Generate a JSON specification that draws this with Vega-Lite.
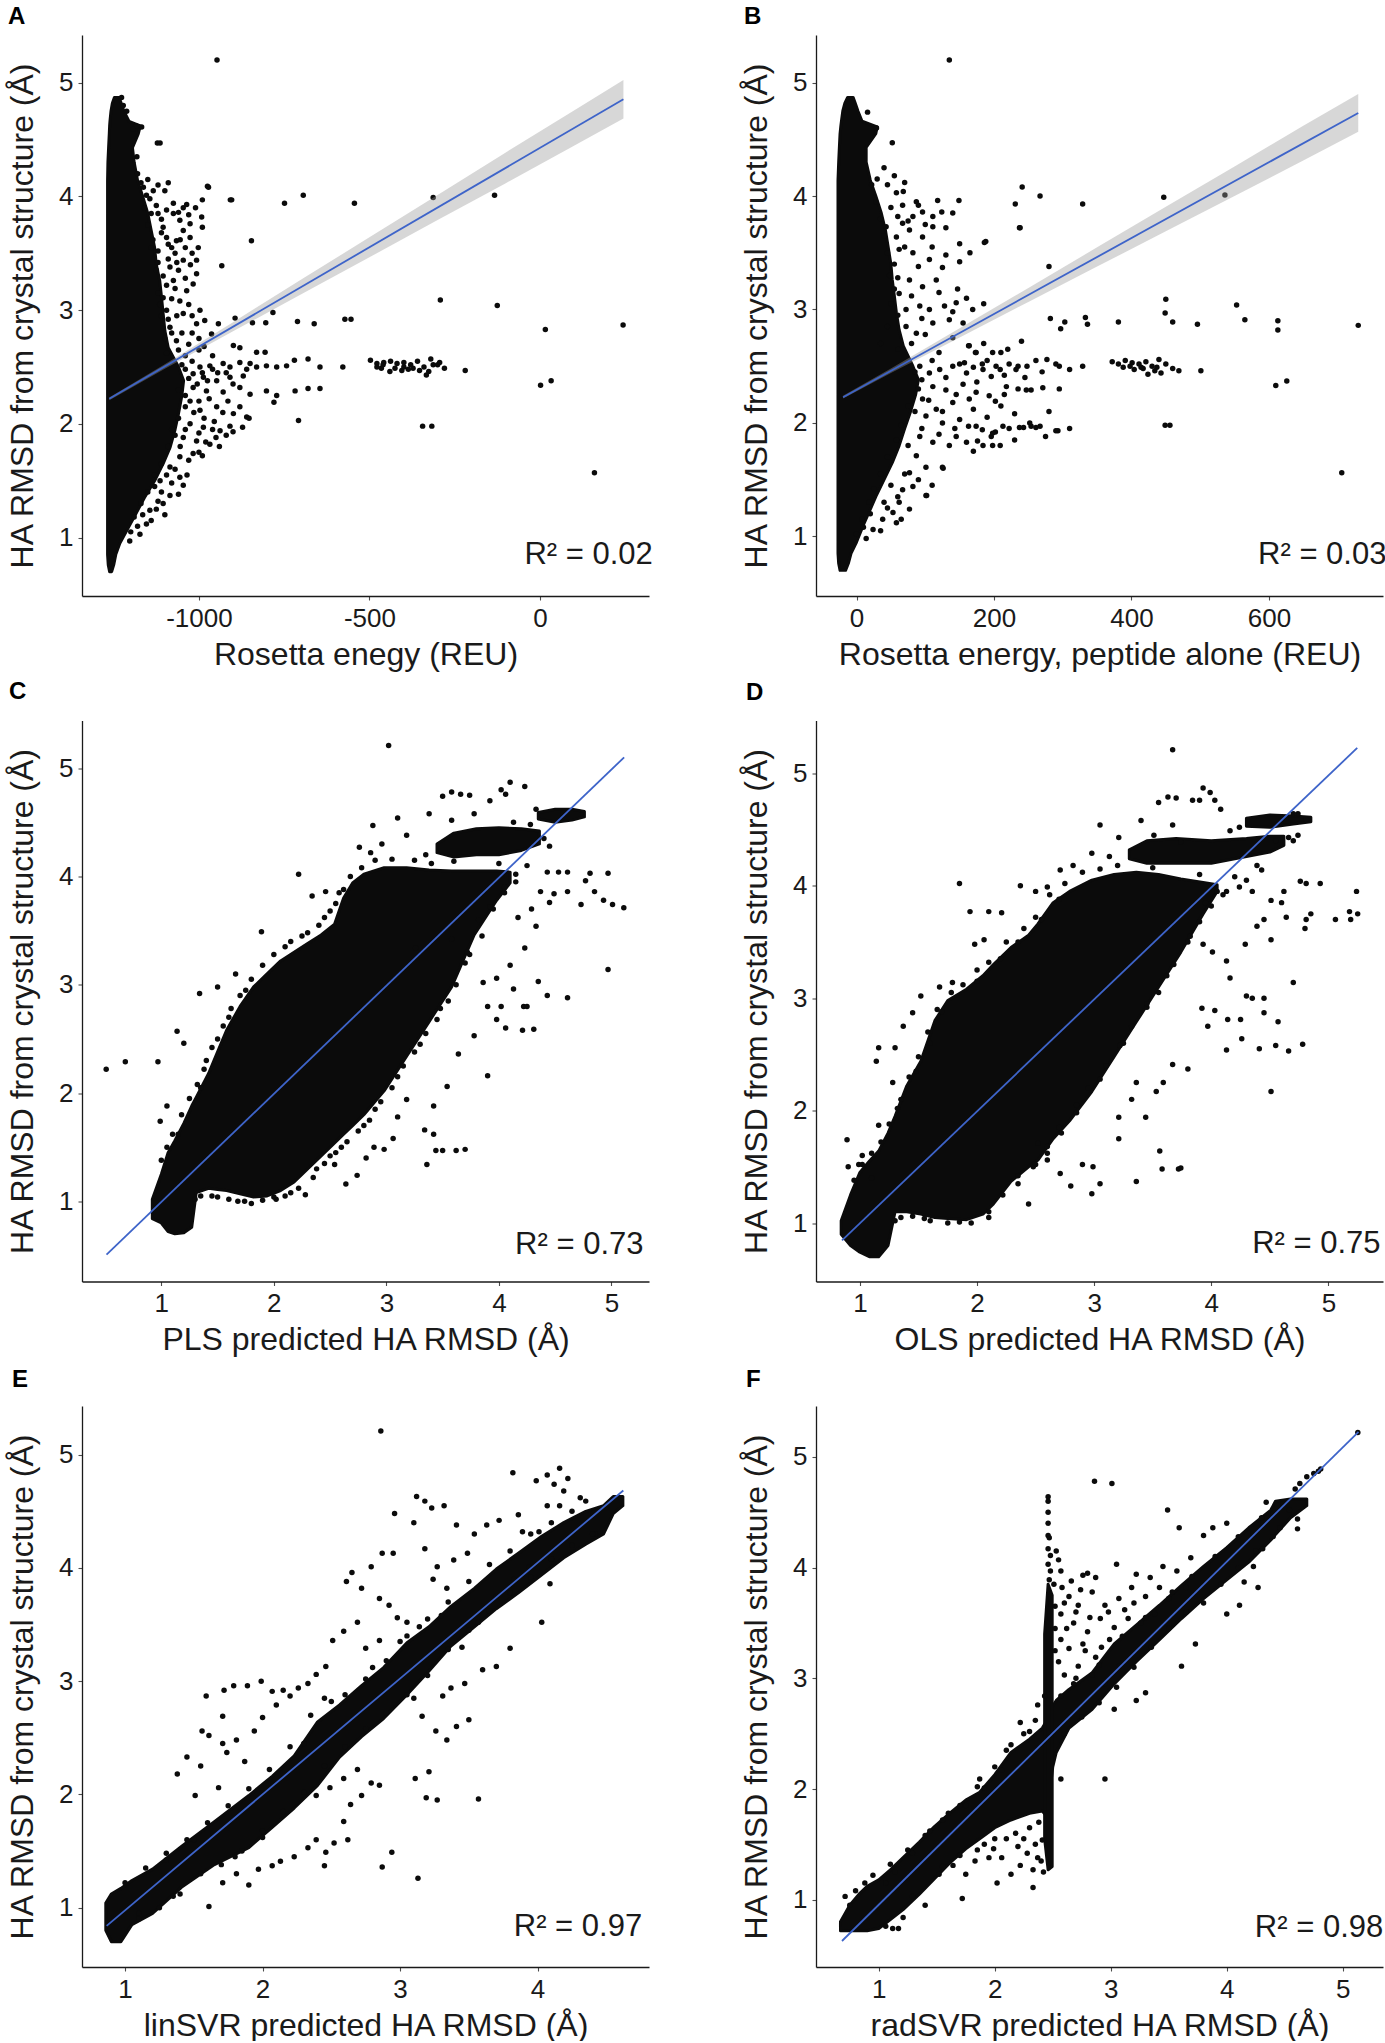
{
  "$schema": "https://vega.github.io/schema/vega-lite/v6.json",
  "background": "white",
  "padding": {"left": 6, "top": 4, "right": 0, "bottom": 0},
  "config": {
    "view": {"stroke": null},
    "font": "Liberation Sans",
    "axis": {
      "grid": false,
      "domainColor": "#1a1a1a",
      "domainWidth": 1.3,
      "tickColor": "#4d4d4d",
      "tickSize": 4,
      "tickWidth": 1.1,
      "labelFontSize": 26,
      "labelColor": "#1a1a1a",
      "labelFlush": false,
      "titleFontSize": 32,
      "titleFontWeight": "normal",
      "titleColor": "#1a1a1a"
    },
    "axisX": {"labelPadding": 5, "titlePadding": 8},
    "axisY": {"labelPadding": 5, "titlePadding": 19},
    "title": {"fontSize": 24, "fontWeight": "bold", "anchor": "start", "frame": "group", "baseline": "alphabetic", "color": "#000000"}
  },
  "datasets": {
    "coreA": [
      {"part": "c", "y": 0.70, "x": -1262, "x2": -1256}, {"part": "c", "y": 0.76, "x": -1266, "x2": -1250}, {"part": "c", "y": 0.85, "x": -1268, "x2": -1244}, {"part": "c", "y": 0.95, "x": -1268, "x2": -1232}, {"part": "c", "y": 1.10, "x": -1268, "x2": -1205}, {"part": "c", "y": 1.21, "x": -1268, "x2": -1185}, {"part": "c", "y": 1.35, "x": -1268, "x2": -1160}, {"part": "c", "y": 1.50, "x": -1268, "x2": -1130}, {"part": "c", "y": 1.65, "x": -1268, "x2": -1105}, {"part": "c", "y": 1.79, "x": -1268, "x2": -1085}, {"part": "c", "y": 1.95, "x": -1268, "x2": -1070}, {"part": "c", "y": 2.09, "x": -1268, "x2": -1060}, {"part": "c", "y": 2.25, "x": -1268, "x2": -1050}, {"part": "c", "y": 2.38, "x": -1268, "x2": -1045}, {"part": "c", "y": 2.50, "x": -1268, "x2": -1060}, {"part": "c", "y": 2.67, "x": -1268, "x2": -1090}, {"part": "c", "y": 2.82, "x": -1268, "x2": -1100}, {"part": "c", "y": 2.97, "x": -1268, "x2": -1105}, {"part": "c", "y": 3.12, "x": -1268, "x2": -1110}, {"part": "c", "y": 3.26, "x": -1268, "x2": -1115}, {"part": "c", "y": 3.40, "x": -1268, "x2": -1125}, {"part": "c", "y": 3.55, "x": -1268, "x2": -1130}, {"part": "c", "y": 3.70, "x": -1268, "x2": -1140}, {"part": "c", "y": 3.85, "x": -1268, "x2": -1150}, {"part": "c", "y": 4.00, "x": -1268, "x2": -1165}, {"part": "c", "y": 4.14, "x": -1268, "x2": -1180}, {"part": "c", "y": 4.30, "x": -1267, "x2": -1190}, {"part": "c", "y": 4.43, "x": -1265, "x2": -1195}, {"part": "c", "y": 4.55, "x": -1263, "x2": -1178}, {"part": "c", "y": 4.62, "x": -1262, "x2": -1172}, {"part": "c", "y": 4.66, "x": -1261, "x2": -1205}, {"part": "c", "y": 4.75, "x": -1258, "x2": -1220}, {"part": "c", "y": 4.82, "x": -1254, "x2": -1228}, {"part": "c", "y": 4.87, "x": -1248, "x2": -1234}
    ],
    "ptsA": [
      {"x": -947, "y": 5.20}, {"x": -1122, "y": 4.47}, {"x": -975, "y": 4.09}, {"x": -908, "y": 3.97}, {"x": -846, "y": 3.61}, {"x": -933, "y": 3.39}, {"x": -749, "y": 3.94}, {"x": -694, "y": 4.01}, {"x": -544, "y": 3.94}, {"x": -313, "y": 3.99}, {"x": -133, "y": 4.01}, {"x": -292, "y": 3.09}, {"x": -125, "y": 3.04}, {"x": 16, "y": 2.83}, {"x": 244, "y": 2.87}, {"x": 2, "y": 2.34}, {"x": 33, "y": 2.38}, {"x": 160, "y": 1.57}, {"x": -344, "y": 1.98}, {"x": -317, "y": 1.98}, {"x": -708, "y": 2.03}, {"x": -572, "y": 2.92}, {"x": -554, "y": 2.92}, {"x": -662, "y": 2.88}, {"x": -711, "y": 2.90}, {"x": -783, "y": 2.98}, {"x": -804, "y": 2.89}, {"x": -843, "y": 2.89}, {"x": -219, "y": 2.47}, {"x": -578, "y": 2.50}, {"x": -645, "y": 2.50}, {"x": -680, "y": 2.57}, {"x": -720, "y": 2.56}, {"x": -645, "y": 2.31}, {"x": -680, "y": 2.31}, {"x": -718, "y": 2.29}, {"x": -780, "y": 2.19},
      {"x": -497, "y": 2.56}, {"x": -478, "y": 2.53}, {"x": -458, "y": 2.54}, {"x": -438, "y": 2.55}, {"x": -419, "y": 2.53}, {"x": -399, "y": 2.54}, {"x": -379, "y": 2.52}, {"x": -359, "y": 2.55}, {"x": -340, "y": 2.50}, {"x": -320, "y": 2.57}, {"x": -300, "y": 2.52}, {"x": -280, "y": 2.49}, {"x": -465, "y": 2.49}, {"x": -425, "y": 2.49}, {"x": -386, "y": 2.48}, {"x": -353, "y": 2.47}, {"x": -326, "y": 2.46}, {"x": -333, "y": 2.43}, {"x": -405, "y": 2.47}, {"x": -372, "y": 2.49}, {"x": -313, "y": 2.52}, {"x": -294, "y": 2.54}, {"x": -478, "y": 2.50}, {"x": -399, "y": 2.50}, {"x": -440, "y": 2.46}, {"x": -460, "y": 2.52},
      {"x": -1114, "y": 4.47}, {"x": -972, "y": 4.08}, {"x": -990, "y": 3.97}, {"x": -904, "y": 3.97}, {"x": -992, "y": 3.82}, {"x": -990, "y": 3.73}, {"x": -1046, "y": 3.90}, {"x": -1075, "y": 3.94}, {"x": -1036, "y": 3.93}, {"x": -1134, "y": 4.05}, {"x": -1163, "y": 4.08}, {"x": -1154, "y": 4.01}, {"x": -1144, "y": 3.98}, {"x": -1075, "y": 3.85}, {"x": -1056, "y": 3.79}, {"x": -1026, "y": 3.76}, {"x": -1046, "y": 3.70}, {"x": -1105, "y": 3.73}, {"x": -1095, "y": 3.64}, {"x": -1066, "y": 3.61}, {"x": -1026, "y": 3.64}, {"x": -1002, "y": 3.55}, {"x": -1007, "y": 3.44}, {"x": -1007, "y": 3.32}, {"x": -1017, "y": 3.23}, {"x": -1036, "y": 3.17}, {"x": -1070, "y": 3.19}, {"x": -1056, "y": 3.08}, {"x": -1085, "y": 3.38}, {"x": -1046, "y": 3.44}, {"x": -1075, "y": 3.26}, {"x": -1105, "y": 3.11}, {"x": -997, "y": 3.00}, {"x": -983, "y": 2.91}, {"x": -943, "y": 2.88}, {"x": -963, "y": 2.79}, {"x": -894, "y": 2.93}, {"x": -1007, "y": 2.88}, {"x": -1085, "y": 2.85}, {"x": -1066, "y": 2.73}, {"x": -1046, "y": 2.97}, {"x": -899, "y": 2.69}, {"x": -880, "y": 2.67}, {"x": -831, "y": 2.63}, {"x": -806, "y": 2.63}, {"x": -997, "y": 2.50}, {"x": -968, "y": 2.51}, {"x": -929, "y": 2.53}, {"x": -909, "y": 2.50}, {"x": -880, "y": 2.54}, {"x": -850, "y": 2.53}, {"x": -831, "y": 2.50}, {"x": -802, "y": 2.51}, {"x": -772, "y": 2.50}, {"x": -743, "y": 2.51}, {"x": -1017, "y": 2.44}, {"x": -987, "y": 2.41}, {"x": -948, "y": 2.38}, {"x": -909, "y": 2.41}, {"x": -870, "y": 2.42}, {"x": -1017, "y": 2.32}, {"x": -978, "y": 2.29}, {"x": -929, "y": 2.28}, {"x": -880, "y": 2.32}, {"x": -850, "y": 2.26}, {"x": -802, "y": 2.29}, {"x": -772, "y": 2.25}, {"x": -1026, "y": 2.20}, {"x": -997, "y": 2.12}, {"x": -948, "y": 2.15}, {"x": -899, "y": 2.09}, {"x": -860, "y": 2.06}, {"x": -1026, "y": 2.00}, {"x": -987, "y": 1.97}, {"x": -938, "y": 1.94}, {"x": -909, "y": 1.98}, {"x": -1046, "y": 1.88}, {"x": -1007, "y": 1.85}, {"x": -968, "y": 1.82}, {"x": -1056, "y": 1.71}, {"x": -1017, "y": 1.74}, {"x": -1085, "y": 1.62}, {"x": -1056, "y": 1.53}, {"x": -1046, "y": 1.46}, {"x": -1085, "y": 1.37}, {"x": -1114, "y": 1.50}, {"x": -1105, "y": 1.30}, {"x": -1144, "y": 1.24}, {"x": -1154, "y": 1.12}, {"x": -1173, "y": 1.03}, {"x": -1203, "y": 0.97}, {"x": -872, "y": 1.97}, {"x": -853, "y": 2.05}, {"x": -900, "y": 1.93}, {"x": -920, "y": 1.90}, {"x": -950, "y": 1.88}, {"x": -980, "y": 1.84}, {"x": -1000, "y": 1.75}, {"x": -1168, "y": 4.61}, {"x": -1183, "y": 4.62}, {"x": -1193, "y": 4.59}, {"x": -1227, "y": 4.87}, {"x": -1212, "y": 4.75}, {"x": -1222, "y": 4.80},
      {"x": -1040, "y": 2.60}, {"x": -1030, "y": 2.40}, {"x": -1060, "y": 2.30}, {"x": -1040, "y": 2.15}, {"x": -1060, "y": 2.05}, {"x": -1080, "y": 1.95}, {"x": -1090, "y": 1.80}, {"x": -1110, "y": 1.65}, {"x": -1130, "y": 1.55}, {"x": -1150, "y": 1.40}, {"x": -1170, "y": 1.30}, {"x": -1190, "y": 1.18}, {"x": -1100, "y": 2.75}, {"x": -1110, "y": 2.95}, {"x": -1120, "y": 3.15}, {"x": -1125, "y": 3.35}, {"x": -1140, "y": 3.55}, {"x": -1150, "y": 3.75}, {"x": -1160, "y": 3.90}, {"x": -1180, "y": 4.20}, {"x": -1182, "y": 4.35}, {"x": -1090, "y": 3.45}, {"x": -1080, "y": 3.55}, {"x": -1120, "y": 3.85}, {"x": -1000, "y": 2.65}, {"x": -960, "y": 2.60}, {"x": -1050, "y": 2.52},
      {"x": -1170, "y": 4.12}, {"x": -1150, "y": 4.15}, {"x": -1120, "y": 4.10}, {"x": -1100, "y": 4.05}, {"x": -1090, "y": 4.12}, {"x": -1140, "y": 3.85}, {"x": -1125, "y": 3.92}, {"x": -1110, "y": 3.80}, {"x": -1095, "y": 3.88}, {"x": -1060, "y": 3.86}, {"x": -1030, "y": 3.84}, {"x": -1010, "y": 3.90}, {"x": -1135, "y": 3.62}, {"x": -1120, "y": 3.52}, {"x": -1110, "y": 3.68}, {"x": -1090, "y": 3.58}, {"x": -1070, "y": 3.50}, {"x": -1055, "y": 3.62}, {"x": -1040, "y": 3.55}, {"x": -1020, "y": 3.50}, {"x": -1120, "y": 3.42}, {"x": -1105, "y": 3.30}, {"x": -1095, "y": 3.22}, {"x": -1060, "y": 3.35}, {"x": -1040, "y": 3.28}, {"x": -1025, "y": 3.40}, {"x": -1065, "y": 3.42}, {"x": -1115, "y": 3.05}, {"x": -1095, "y": 3.00}, {"x": -1080, "y": 3.10}, {"x": -1065, "y": 2.95}, {"x": -1030, "y": 3.05}, {"x": -1020, "y": 2.95}, {"x": -1090, "y": 2.92}, {"x": -1095, "y": 2.62}, {"x": -1080, "y": 2.80}, {"x": -1060, "y": 2.65}, {"x": -1050, "y": 2.80}, {"x": -1030, "y": 2.70}, {"x": -1020, "y": 2.80}, {"x": -1000, "y": 2.75}, {"x": -985, "y": 2.68}, {"x": -1040, "y": 2.48}, {"x": -1020, "y": 2.55}, {"x": -1005, "y": 2.35}, {"x": -990, "y": 2.45}, {"x": -975, "y": 2.38}, {"x": -960, "y": 2.48}, {"x": -945, "y": 2.45}, {"x": -920, "y": 2.45}, {"x": -900, "y": 2.35}, {"x": -860, "y": 2.48}, {"x": -1040, "y": 2.25}, {"x": -1015, "y": 2.10}, {"x": -1000, "y": 2.20}, {"x": -985, "y": 2.05}, {"x": -970, "y": 2.22}, {"x": -955, "y": 2.02}, {"x": -930, "y": 2.10}, {"x": -915, "y": 2.20}, {"x": -880, "y": 2.15}, {"x": -1070, "y": 1.90}, {"x": -1055, "y": 1.80}, {"x": -1040, "y": 1.95}, {"x": -1030, "y": 1.68}, {"x": -1000, "y": 1.92}, {"x": -990, "y": 1.72}, {"x": -960, "y": 1.95}, {"x": -940, "y": 1.80}, {"x": -1130, "y": 1.45}, {"x": -1110, "y": 1.40}, {"x": -1095, "y": 1.55}, {"x": -1080, "y": 1.48}, {"x": -1070, "y": 1.60}, {"x": -1060, "y": 1.38}, {"x": -1120, "y": 1.32}, {"x": -1035, "y": 1.55}, {"x": -1180, "y": 1.10}, {"x": -1165, "y": 1.20}, {"x": -1140, "y": 1.15}, {"x": -1125, "y": 1.25}, {"x": -1200, "y": 1.05}, {"x": -1100, "y": 1.20}
    ],
    "bandA": [
      {"x": -1263, "y": 2.208, "y2": 2.232}, {"x": -1100, "y": 2.485, "y2": 2.525}, {"x": -900, "y": 2.814, "y2": 2.894}, {"x": -700, "y": 3.139, "y2": 3.269}, {"x": -500, "y": 3.465, "y2": 3.641}, {"x": -300, "y": 3.793, "y2": 4.013}, {"x": -100, "y": 4.117, "y2": 4.387}, {"x": 100, "y": 4.447, "y2": 4.757}, {"x": 245, "y": 4.685, "y2": 5.025}
    ],
    "lineA": [{"x": -1263, "y": 2.22}, {"x": 245, "y": 4.855}],
    "noteA": [{"x": 331, "y": 0.848, "label": "R² = 0.02"}],
    "coreB": [
      {"part": "c", "y": 0.70, "x": -24, "x2": -16}, {"part": "c", "y": 0.76, "x": -26, "x2": -12}, {"part": "c", "y": 0.85, "x": -27, "x2": -8}, {"part": "c", "y": 0.95, "x": -27, "x2": 0}, {"part": "c", "y": 1.10, "x": -27, "x2": 10}, {"part": "c", "y": 1.21, "x": -27, "x2": 18}, {"part": "c", "y": 1.35, "x": -27, "x2": 28}, {"part": "c", "y": 1.50, "x": -27, "x2": 40}, {"part": "c", "y": 1.65, "x": -27, "x2": 52}, {"part": "c", "y": 1.80, "x": -27, "x2": 62}, {"part": "c", "y": 1.95, "x": -27, "x2": 70}, {"part": "c", "y": 2.09, "x": -27, "x2": 78}, {"part": "c", "y": 2.25, "x": -27, "x2": 86}, {"part": "c", "y": 2.38, "x": -27, "x2": 90}, {"part": "c", "y": 2.50, "x": -27, "x2": 82}, {"part": "c", "y": 2.68, "x": -27, "x2": 68}, {"part": "c", "y": 2.82, "x": -27, "x2": 62}, {"part": "c", "y": 2.97, "x": -27, "x2": 58}, {"part": "c", "y": 3.12, "x": -27, "x2": 55}, {"part": "c", "y": 3.26, "x": -27, "x2": 52}, {"part": "c", "y": 3.40, "x": -27, "x2": 50}, {"part": "c", "y": 3.55, "x": -27, "x2": 46}, {"part": "c", "y": 3.70, "x": -27, "x2": 42}, {"part": "c", "y": 3.85, "x": -27, "x2": 36}, {"part": "c", "y": 4.00, "x": -27, "x2": 28}, {"part": "c", "y": 4.14, "x": -27, "x2": 20}, {"part": "c", "y": 4.30, "x": -26, "x2": 14}, {"part": "c", "y": 4.43, "x": -25, "x2": 14}, {"part": "c", "y": 4.55, "x": -24, "x2": 28}, {"part": "c", "y": 4.61, "x": -23, "x2": 30}, {"part": "c", "y": 4.66, "x": -22, "x2": 8}, {"part": "c", "y": 4.75, "x": -20, "x2": 2}, {"part": "c", "y": 4.82, "x": -17, "x2": -2}, {"part": "c", "y": 4.87, "x": -13, "x2": -5}
    ],
    "ptsB": [
      {"x": 135, "y": 5.20}, {"x": 52, "y": 4.47}, {"x": 241, "y": 4.08}, {"x": 231, "y": 3.93}, {"x": 238, "y": 3.72}, {"x": 267, "y": 4.00}, {"x": 329, "y": 3.93}, {"x": 447, "y": 3.99}, {"x": 536, "y": 4.01}, {"x": 188, "y": 3.60}, {"x": 280, "y": 3.38}, {"x": 450, "y": 3.09}, {"x": 449, "y": 2.97}, {"x": 553, "y": 3.04}, {"x": 565, "y": 2.91}, {"x": 613, "y": 2.90}, {"x": 613, "y": 2.82}, {"x": 730, "y": 2.86}, {"x": 496, "y": 2.87}, {"x": 460, "y": 2.89}, {"x": 381, "y": 2.89}, {"x": 336, "y": 2.87}, {"x": 333, "y": 2.93}, {"x": 297, "y": 2.83}, {"x": 303, "y": 2.89}, {"x": 282, "y": 2.92}, {"x": 501, "y": 2.46}, {"x": 329, "y": 2.50}, {"x": 295, "y": 2.50}, {"x": 277, "y": 2.56}, {"x": 610, "y": 2.33}, {"x": 626, "y": 2.37}, {"x": 295, "y": 2.30}, {"x": 449, "y": 1.98}, {"x": 456, "y": 1.98}, {"x": 293, "y": 1.93}, {"x": 706, "y": 1.56}, {"x": 126, "y": 1.60}, {"x": 102, "y": 1.36}, {"x": 254, "y": 1.97}, {"x": 267, "y": 1.97}, {"x": 243, "y": 1.96}, {"x": 254, "y": 2.29}, {"x": 271, "y": 2.31}, {"x": 235, "y": 2.30}, {"x": 215, "y": 2.25}, {"x": 202, "y": 2.19}, {"x": 196, "y": 2.41}, {"x": 209, "y": 2.47}, {"x": 222, "y": 2.52}, {"x": 235, "y": 2.50}, {"x": 248, "y": 2.50}, {"x": 261, "y": 2.55}, {"x": 183, "y": 2.52}, {"x": 170, "y": 2.49}, {"x": 157, "y": 2.53}, {"x": 163, "y": 2.68}, {"x": 173, "y": 2.62},
      {"x": 372, "y": 2.54}, {"x": 381, "y": 2.52}, {"x": 391, "y": 2.55}, {"x": 401, "y": 2.53}, {"x": 411, "y": 2.52}, {"x": 421, "y": 2.54}, {"x": 430, "y": 2.50}, {"x": 440, "y": 2.56}, {"x": 450, "y": 2.52}, {"x": 460, "y": 2.48}, {"x": 469, "y": 2.46}, {"x": 388, "y": 2.49}, {"x": 404, "y": 2.47}, {"x": 417, "y": 2.48}, {"x": 434, "y": 2.46}, {"x": 443, "y": 2.44}, {"x": 424, "y": 2.43}, {"x": 398, "y": 2.50}, {"x": 414, "y": 2.49}, {"x": 437, "y": 2.49},
      {"x": 143, "y": 1.95}, {"x": 163, "y": 1.97}, {"x": 183, "y": 1.94}, {"x": 202, "y": 1.92}, {"x": 222, "y": 1.95}, {"x": 209, "y": 1.80}, {"x": 196, "y": 1.88}, {"x": 176, "y": 1.84},
      {"x": 16, "y": 4.74}, {"x": 29, "y": 4.60}, {"x": 58, "y": 4.03}, {"x": 68, "y": 4.04}, {"x": 67, "y": 3.92}, {"x": 87, "y": 3.95}, {"x": 118, "y": 3.96}, {"x": 149, "y": 3.96}, {"x": 124, "y": 3.86}, {"x": 111, "y": 3.82}, {"x": 96, "y": 3.86}, {"x": 82, "y": 3.82}, {"x": 67, "y": 3.76}, {"x": 43, "y": 3.73}, {"x": 58, "y": 3.64}, {"x": 77, "y": 3.70}, {"x": 96, "y": 3.64}, {"x": 111, "y": 3.73}, {"x": 150, "y": 3.58}, {"x": 186, "y": 3.59}, {"x": 237, "y": 3.72}, {"x": 62, "y": 3.53}, {"x": 82, "y": 3.50}, {"x": 106, "y": 3.44}, {"x": 125, "y": 3.37}, {"x": 147, "y": 3.18}, {"x": 145, "y": 3.06}, {"x": 116, "y": 3.26}, {"x": 96, "y": 3.20}, {"x": 77, "y": 3.26}, {"x": 62, "y": 3.14}, {"x": 72, "y": 3.00}, {"x": 92, "y": 3.03}, {"x": 106, "y": 3.00}, {"x": 128, "y": 3.03}, {"x": 135, "y": 2.91}, {"x": 111, "y": 2.88}, {"x": 87, "y": 2.79}, {"x": 72, "y": 2.85}, {"x": 169, "y": 3.00}, {"x": 155, "y": 2.88}, {"x": 164, "y": 2.68}, {"x": 174, "y": 2.62}, {"x": 198, "y": 2.62}, {"x": 210, "y": 2.62}, {"x": 92, "y": 2.50}, {"x": 106, "y": 2.44}, {"x": 121, "y": 2.47}, {"x": 140, "y": 2.50}, {"x": 160, "y": 2.44}, {"x": 184, "y": 2.47}, {"x": 203, "y": 2.50}, {"x": 232, "y": 2.47}, {"x": 111, "y": 2.32}, {"x": 130, "y": 2.29}, {"x": 155, "y": 2.34}, {"x": 174, "y": 2.27}, {"x": 193, "y": 2.24}, {"x": 218, "y": 2.32}, {"x": 247, "y": 2.29}, {"x": 96, "y": 2.21}, {"x": 116, "y": 2.12}, {"x": 140, "y": 2.18}, {"x": 164, "y": 2.21}, {"x": 101, "y": 2.06}, {"x": 125, "y": 2.00}, {"x": 150, "y": 2.03}, {"x": 174, "y": 1.97}, {"x": 198, "y": 1.91}, {"x": 213, "y": 1.97}, {"x": 237, "y": 1.96}, {"x": 252, "y": 2.00}, {"x": 261, "y": 1.96}, {"x": 290, "y": 1.93}, {"x": 92, "y": 1.88}, {"x": 111, "y": 1.83}, {"x": 135, "y": 1.80}, {"x": 160, "y": 1.83}, {"x": 184, "y": 1.80}, {"x": 198, "y": 1.80}, {"x": 87, "y": 1.71}, {"x": 101, "y": 1.61}, {"x": 125, "y": 1.61}, {"x": 77, "y": 1.56}, {"x": 67, "y": 1.41}, {"x": 82, "y": 1.44}, {"x": 101, "y": 1.36}, {"x": 62, "y": 1.30}, {"x": 53, "y": 1.21}, {"x": 77, "y": 1.24}, {"x": 38, "y": 1.15}, {"x": 58, "y": 1.12}, {"x": 24, "y": 1.06}, {"x": 14, "y": 0.98},
      {"x": 35, "y": 2.70}, {"x": 45, "y": 2.85}, {"x": 50, "y": 3.05}, {"x": 48, "y": 3.30}, {"x": 45, "y": 3.50}, {"x": 40, "y": 3.65}, {"x": 35, "y": 3.80}, {"x": 28, "y": 3.95}, {"x": 22, "y": 4.10}, {"x": 90, "y": 2.30}, {"x": 85, "y": 2.45}, {"x": 75, "y": 2.15}, {"x": 65, "y": 1.98}, {"x": 58, "y": 1.85}, {"x": 45, "y": 1.70}, {"x": 35, "y": 1.55}, {"x": 25, "y": 1.42}, {"x": 18, "y": 1.30}, {"x": 8, "y": 1.15}, {"x": 0, "y": 1.02},
      {"x": 30, "y": 4.15}, {"x": 45, "y": 4.10}, {"x": 55, "y": 4.18}, {"x": 70, "y": 4.12}, {"x": 40, "y": 4.25}, {"x": 50, "y": 3.90}, {"x": 60, "y": 3.82}, {"x": 75, "y": 3.78}, {"x": 90, "y": 3.92}, {"x": 100, "y": 3.75}, {"x": 130, "y": 3.72}, {"x": 140, "y": 3.85}, {"x": 55, "y": 3.40}, {"x": 70, "y": 3.55}, {"x": 90, "y": 3.38}, {"x": 110, "y": 3.55}, {"x": 130, "y": 3.48}, {"x": 150, "y": 3.42}, {"x": 165, "y": 3.50}, {"x": 60, "y": 3.28}, {"x": 55, "y": 3.18}, {"x": 80, "y": 3.12}, {"x": 120, "y": 3.15}, {"x": 140, "y": 2.98}, {"x": 160, "y": 3.10}, {"x": 185, "y": 3.05}, {"x": 60, "y": 2.95}, {"x": 95, "y": 2.92}, {"x": 60, "y": 2.65}, {"x": 80, "y": 2.70}, {"x": 100, "y": 2.78}, {"x": 120, "y": 2.62}, {"x": 140, "y": 2.75}, {"x": 185, "y": 2.70}, {"x": 220, "y": 2.65}, {"x": 240, "y": 2.72}, {"x": 95, "y": 2.38}, {"x": 110, "y": 2.55}, {"x": 130, "y": 2.40}, {"x": 150, "y": 2.52}, {"x": 175, "y": 2.36}, {"x": 190, "y": 2.55}, {"x": 215, "y": 2.42}, {"x": 245, "y": 2.40}, {"x": 270, "y": 2.45}, {"x": 290, "y": 2.52}, {"x": 310, "y": 2.47}, {"x": 85, "y": 2.10}, {"x": 105, "y": 2.20}, {"x": 125, "y": 2.10}, {"x": 145, "y": 2.25}, {"x": 170, "y": 2.12}, {"x": 190, "y": 2.05}, {"x": 210, "y": 2.15}, {"x": 230, "y": 2.08}, {"x": 280, "y": 2.10}, {"x": 75, "y": 1.80}, {"x": 95, "y": 1.95}, {"x": 120, "y": 1.90}, {"x": 145, "y": 1.88}, {"x": 170, "y": 1.75}, {"x": 230, "y": 1.85}, {"x": 275, "y": 1.88}, {"x": 310, "y": 1.95}, {"x": 50, "y": 1.45}, {"x": 70, "y": 1.55}, {"x": 90, "y": 1.50}, {"x": 110, "y": 1.45}, {"x": 60, "y": 1.35}, {"x": 40, "y": 1.30}, {"x": 20, "y": 1.20}, {"x": 35, "y": 1.05}, {"x": 45, "y": 1.25}, {"x": 10, "y": 1.08}, {"x": 65, "y": 1.15}
    ],
    "bandB": [
      {"x": -19.6, "y": 2.215, "y2": 2.239}, {"x": 50, "y": 2.44, "y2": 2.48}, {"x": 150, "y": 2.754, "y2": 2.834}, {"x": 250, "y": 3.066, "y2": 3.19}, {"x": 350, "y": 3.378, "y2": 3.548}, {"x": 450, "y": 3.689, "y2": 3.905}, {"x": 550, "y": 4.001, "y2": 4.261}, {"x": 650, "y": 4.313, "y2": 4.619}, {"x": 730, "y": 4.566, "y2": 4.9}
    ],
    "lineB": [{"x": -19.6, "y": 2.227}, {"x": 730, "y": 4.733}],
    "noteB": [{"x": 771, "y": 0.836, "label": "R² = 0.03"}],
    "coreC": [
      {"part": "m", "x": 0.92, "y": 0.84, "y2": 1.02}, {"part": "m", "x": 1.00, "y": 0.80, "y2": 1.25}, {"part": "m", "x": 1.06, "y": 0.72, "y2": 1.45}, {"part": "m", "x": 1.12, "y": 0.70, "y2": 1.56}, {"part": "m", "x": 1.20, "y": 0.71, "y2": 1.72}, {"part": "m", "x": 1.27, "y": 0.76, "y2": 1.88}, {"part": "m", "x": 1.31, "y": 1.08, "y2": 1.96}, {"part": "m", "x": 1.42, "y": 1.12, "y2": 2.18}, {"part": "m", "x": 1.50, "y": 1.11, "y2": 2.38}, {"part": "m", "x": 1.58, "y": 1.10, "y2": 2.58}, {"part": "m", "x": 1.70, "y": 1.07, "y2": 2.80}, {"part": "m", "x": 1.82, "y": 1.04, "y2": 2.98}, {"part": "m", "x": 1.94, "y": 1.05, "y2": 3.10}, {"part": "m", "x": 2.06, "y": 1.10, "y2": 3.22}, {"part": "m", "x": 2.18, "y": 1.18, "y2": 3.30}, {"part": "m", "x": 2.30, "y": 1.30, "y2": 3.38}, {"part": "m", "x": 2.42, "y": 1.42, "y2": 3.46}, {"part": "m", "x": 2.54, "y": 1.54, "y2": 3.56}, {"part": "m", "x": 2.62, "y": 1.62, "y2": 3.80}, {"part": "m", "x": 2.70, "y": 1.70, "y2": 3.94}, {"part": "m", "x": 2.80, "y": 1.80, "y2": 4.02}, {"part": "m", "x": 2.98, "y": 2.02, "y2": 4.08}, {"part": "m", "x": 3.18, "y": 2.34, "y2": 4.08}, {"part": "m", "x": 3.38, "y": 2.66, "y2": 4.06}, {"part": "m", "x": 3.58, "y": 2.98, "y2": 4.05}, {"part": "m", "x": 3.78, "y": 3.46, "y2": 4.05}, {"part": "m", "x": 3.98, "y": 3.78, "y2": 4.05}, {"part": "m", "x": 4.10, "y": 3.94, "y2": 4.04},
      {"part": "u", "x": 3.45, "y": 4.22, "y2": 4.30}, {"part": "u", "x": 3.60, "y": 4.18, "y2": 4.40}, {"part": "u", "x": 3.80, "y": 4.20, "y2": 4.44}, {"part": "u", "x": 4.00, "y": 4.20, "y2": 4.45}, {"part": "u", "x": 4.20, "y": 4.24, "y2": 4.44}, {"part": "u", "x": 4.36, "y": 4.30, "y2": 4.42},
      {"part": "t", "x": 4.35, "y": 4.53, "y2": 4.59}, {"part": "t", "x": 4.50, "y": 4.50, "y2": 4.62}, {"part": "t", "x": 4.65, "y": 4.52, "y2": 4.62}, {"part": "t", "x": 4.76, "y": 4.55, "y2": 4.60}
    ],
    "ptsC": [
      {"x": 0.51, "y": 2.22}, {"x": 0.68, "y": 2.29}, {"x": 0.97, "y": 2.29}, {"x": 1.05, "y": 1.88}, {"x": 0.99, "y": 1.74}, {"x": 1.14, "y": 2.57}, {"x": 1.20, "y": 2.46}, {"x": 1.34, "y": 2.92}, {"x": 1.50, "y": 2.98}, {"x": 1.66, "y": 3.10}, {"x": 1.89, "y": 3.49}, {"x": 2.22, "y": 4.02}, {"x": 2.34, "y": 3.82}, {"x": 2.46, "y": 3.86}, {"x": 3.02, "y": 5.21}, {"x": 2.88, "y": 4.47}, {"x": 3.10, "y": 4.54}, {"x": 2.86, "y": 4.22}, {"x": 2.96, "y": 4.30}, {"x": 2.76, "y": 4.27}, {"x": 3.18, "y": 4.38}, {"x": 3.38, "y": 4.58}, {"x": 3.50, "y": 4.74}, {"x": 3.58, "y": 4.78}, {"x": 3.66, "y": 4.76}, {"x": 3.74, "y": 4.75}, {"x": 3.92, "y": 4.70}, {"x": 4.02, "y": 4.80}, {"x": 4.10, "y": 4.87}, {"x": 4.23, "y": 4.83}, {"x": 4.06, "y": 4.76}, {"x": 3.58, "y": 4.52}, {"x": 3.78, "y": 4.58}, {"x": 4.13, "y": 4.50}, {"x": 4.33, "y": 4.62}, {"x": 4.43, "y": 4.04}, {"x": 4.53, "y": 4.04}, {"x": 4.61, "y": 4.04}, {"x": 4.81, "y": 4.03}, {"x": 4.97, "y": 4.03}, {"x": 4.37, "y": 3.86}, {"x": 4.49, "y": 3.84}, {"x": 4.61, "y": 3.86}, {"x": 4.73, "y": 3.74}, {"x": 4.77, "y": 3.96}, {"x": 4.85, "y": 3.86}, {"x": 4.93, "y": 3.78}, {"x": 5.01, "y": 3.74}, {"x": 5.11, "y": 3.71}, {"x": 4.45, "y": 3.76}, {"x": 4.29, "y": 3.70}, {"x": 4.33, "y": 3.54}, {"x": 4.17, "y": 3.62}, {"x": 4.23, "y": 3.34}, {"x": 4.10, "y": 3.18}, {"x": 4.35, "y": 3.03}, {"x": 4.43, "y": 2.90}, {"x": 4.61, "y": 2.88}, {"x": 4.97, "y": 3.14}, {"x": 4.13, "y": 2.96}, {"x": 3.98, "y": 3.06}, {"x": 3.90, "y": 2.80}, {"x": 3.98, "y": 2.68}, {"x": 4.06, "y": 2.60}, {"x": 4.22, "y": 2.80}, {"x": 4.25, "y": 2.80}, {"x": 4.31, "y": 2.59}, {"x": 4.21, "y": 2.58}, {"x": 4.02, "y": 2.80}, {"x": 3.78, "y": 2.53}, {"x": 3.64, "y": 2.36}, {"x": 3.90, "y": 2.16}, {"x": 3.54, "y": 2.06}, {"x": 3.42, "y": 1.88}, {"x": 3.34, "y": 1.66}, {"x": 3.42, "y": 1.62}, {"x": 3.44, "y": 1.47}, {"x": 3.50, "y": 1.47}, {"x": 3.62, "y": 1.47}, {"x": 3.70, "y": 1.48}, {"x": 3.36, "y": 1.34}, {"x": 3.18, "y": 1.94}, {"x": 3.10, "y": 1.78}, {"x": 3.06, "y": 1.58}, {"x": 2.98, "y": 1.48}, {"x": 2.89, "y": 1.50}, {"x": 2.82, "y": 1.40}, {"x": 2.74, "y": 1.24}, {"x": 2.64, "y": 1.16}, {"x": 2.54, "y": 1.34}, {"x": 2.38, "y": 1.30}, {"x": 2.28, "y": 1.06}, {"x": 2.02, "y": 1.02}, {"x": 1.90, "y": 1.01}, {"x": 1.74, "y": 1.00}, {"x": 3.74, "y": 3.28}, {"x": 3.86, "y": 3.02}, {"x": 3.58, "y": 3.42}, {"x": 3.26, "y": 3.34},
      {"x": 2.50, "y": 1.42}, {"x": 2.60, "y": 1.50}, {"x": 2.80, "y": 1.70}, {"x": 2.90, "y": 1.85}, {"x": 3.10, "y": 2.15}, {"x": 3.30, "y": 2.45}, {"x": 3.45, "y": 2.68}, {"x": 3.55, "y": 2.85}, {"x": 3.70, "y": 3.20}, {"x": 3.85, "y": 3.45}, {"x": 1.40, "y": 2.30}, {"x": 1.50, "y": 2.50}, {"x": 1.60, "y": 2.70}, {"x": 1.75, "y": 2.95}, {"x": 2.10, "y": 3.35}, {"x": 2.30, "y": 3.48}, {"x": 2.45, "y": 3.62}, {"x": 2.55, "y": 3.75}, {"x": 2.62, "y": 3.88}, {"x": 3.95, "y": 3.70}, {"x": 4.05, "y": 3.85}, {"x": 4.15, "y": 3.95}, {"x": 4.00, "y": 4.12}, {"x": 3.40, "y": 4.12}, {"x": 3.60, "y": 4.14}, {"x": 1.30, "y": 1.02}, {"x": 1.45, "y": 1.05}, {"x": 1.60, "y": 1.02}, {"x": 2.15, "y": 1.08}, {"x": 1.35, "y": 2.05}, {"x": 1.15, "y": 1.62}, {"x": 1.00, "y": 1.38},
      {"x": 1.05, "y": 1.50}, {"x": 1.10, "y": 1.62}, {"x": 1.18, "y": 1.80}, {"x": 1.25, "y": 1.95}, {"x": 1.32, "y": 2.08}, {"x": 1.38, "y": 2.22}, {"x": 1.45, "y": 2.42}, {"x": 1.55, "y": 2.62}, {"x": 1.62, "y": 2.78}, {"x": 1.70, "y": 2.90}, {"x": 1.80, "y": 3.05}, {"x": 1.90, "y": 3.18}, {"x": 2.00, "y": 3.28}, {"x": 2.15, "y": 3.40}, {"x": 2.25, "y": 3.45}, {"x": 2.40, "y": 3.55}, {"x": 2.50, "y": 3.68}, {"x": 2.58, "y": 3.85}, {"x": 2.68, "y": 4.00}, {"x": 2.78, "y": 4.08}, {"x": 2.90, "y": 4.15}, {"x": 3.05, "y": 4.16}, {"x": 3.25, "y": 4.15}, {"x": 3.35, "y": 4.20}, {"x": 1.35, "y": 1.05}, {"x": 1.50, "y": 1.04}, {"x": 1.68, "y": 1.00}, {"x": 1.80, "y": 0.98}, {"x": 2.00, "y": 1.04}, {"x": 2.10, "y": 1.05}, {"x": 2.22, "y": 1.12}, {"x": 2.35, "y": 1.22}, {"x": 2.45, "y": 1.35}, {"x": 2.55, "y": 1.45}, {"x": 2.65, "y": 1.55}, {"x": 2.75, "y": 1.65}, {"x": 2.85, "y": 1.75}, {"x": 2.95, "y": 1.92}, {"x": 3.05, "y": 2.05}, {"x": 3.15, "y": 2.25}, {"x": 3.25, "y": 2.38}, {"x": 3.35, "y": 2.55}, {"x": 3.48, "y": 2.78}, {"x": 3.62, "y": 3.00}, {"x": 3.72, "y": 3.30}, {"x": 3.82, "y": 3.60}, {"x": 3.92, "y": 3.72}, {"x": 4.05, "y": 3.90}, {"x": 4.15, "y": 4.02}, {"x": 4.25, "y": 4.10}, {"x": 4.40, "y": 4.35}, {"x": 4.45, "y": 4.28}, {"x": 4.28, "y": 4.48}
    ],
    "lineC": [{"x": 0.513, "y": 0.508}, {"x": 5.113, "y": 5.10}],
    "noteC": [{"x": 5.285, "y": 0.60, "label": "R² = 0.73"}],
    "coreD": [
      {"part": "m", "x": 0.84, "y": 0.90, "y2": 1.02}, {"part": "m", "x": 0.92, "y": 0.80, "y2": 1.25}, {"part": "m", "x": 1.00, "y": 0.74, "y2": 1.45}, {"part": "m", "x": 1.08, "y": 0.70, "y2": 1.55}, {"part": "m", "x": 1.16, "y": 0.70, "y2": 1.64}, {"part": "m", "x": 1.24, "y": 0.80, "y2": 1.80}, {"part": "m", "x": 1.30, "y": 1.10, "y2": 1.95}, {"part": "m", "x": 1.40, "y": 1.10, "y2": 2.22}, {"part": "m", "x": 1.52, "y": 1.08, "y2": 2.44}, {"part": "m", "x": 1.64, "y": 1.05, "y2": 2.80}, {"part": "m", "x": 1.75, "y": 1.04, "y2": 2.98}, {"part": "m", "x": 1.91, "y": 1.03, "y2": 3.08}, {"part": "m", "x": 2.05, "y": 1.08, "y2": 3.20}, {"part": "m", "x": 2.14, "y": 1.17, "y2": 3.30}, {"part": "m", "x": 2.29, "y": 1.37, "y2": 3.45}, {"part": "m", "x": 2.44, "y": 1.50, "y2": 3.56}, {"part": "m", "x": 2.52, "y": 1.56, "y2": 3.66}, {"part": "m", "x": 2.65, "y": 1.75, "y2": 3.85}, {"part": "m", "x": 2.79, "y": 1.91, "y2": 3.95}, {"part": "m", "x": 2.98, "y": 2.17, "y2": 4.05}, {"part": "m", "x": 3.17, "y": 2.48, "y2": 4.10}, {"part": "m", "x": 3.36, "y": 2.79, "y2": 4.12}, {"part": "m", "x": 3.55, "y": 3.10, "y2": 4.10}, {"part": "m", "x": 3.74, "y": 3.41, "y2": 4.06}, {"part": "m", "x": 3.93, "y": 3.75, "y2": 4.03}, {"part": "m", "x": 4.05, "y": 3.95, "y2": 4.01},
      {"part": "u", "x": 3.30, "y": 4.24, "y2": 4.32}, {"part": "u", "x": 3.45, "y": 4.20, "y2": 4.40}, {"part": "u", "x": 3.70, "y": 4.20, "y2": 4.42}, {"part": "u", "x": 4.00, "y": 4.20, "y2": 4.40}, {"part": "u", "x": 4.30, "y": 4.26, "y2": 4.42}, {"part": "u", "x": 4.50, "y": 4.30, "y2": 4.44}, {"part": "u", "x": 4.62, "y": 4.36, "y2": 4.44},
      {"part": "t", "x": 4.30, "y": 4.53, "y2": 4.60}, {"part": "t", "x": 4.50, "y": 4.52, "y2": 4.63}, {"part": "t", "x": 4.70, "y": 4.55, "y2": 4.62}, {"part": "t", "x": 4.85, "y": 4.57, "y2": 4.61}
    ],
    "ptsD": [
      {"x": 3.67, "y": 5.21}, {"x": 1.85, "y": 4.02}, {"x": 2.37, "y": 4.00}, {"x": 1.94, "y": 3.77}, {"x": 2.10, "y": 3.77}, {"x": 2.21, "y": 3.76}, {"x": 1.98, "y": 3.48}, {"x": 2.06, "y": 3.52}, {"x": 1.68, "y": 3.10}, {"x": 1.79, "y": 3.14}, {"x": 1.52, "y": 3.02}, {"x": 1.45, "y": 2.87}, {"x": 1.37, "y": 2.75}, {"x": 1.16, "y": 2.56}, {"x": 1.14, "y": 2.44}, {"x": 1.30, "y": 2.56}, {"x": 1.28, "y": 2.25}, {"x": 0.89, "y": 1.74}, {"x": 1.16, "y": 1.87}, {"x": 0.99, "y": 1.52}, {"x": 1.10, "y": 1.40}, {"x": 2.52, "y": 1.71}, {"x": 2.60, "y": 1.56}, {"x": 2.44, "y": 1.17}, {"x": 2.71, "y": 1.44}, {"x": 2.80, "y": 1.33}, {"x": 2.98, "y": 1.26}, {"x": 3.05, "y": 1.35}, {"x": 2.90, "y": 1.52}, {"x": 2.99, "y": 1.50}, {"x": 3.21, "y": 1.75}, {"x": 3.36, "y": 1.37}, {"x": 3.56, "y": 1.64}, {"x": 3.58, "y": 1.48}, {"x": 3.72, "y": 1.48}, {"x": 3.74, "y": 1.49}, {"x": 3.53, "y": 2.17}, {"x": 3.67, "y": 2.41}, {"x": 3.80, "y": 2.37}, {"x": 3.59, "y": 2.25}, {"x": 3.36, "y": 2.25}, {"x": 3.32, "y": 2.10}, {"x": 3.21, "y": 1.94}, {"x": 3.44, "y": 1.94}, {"x": 4.51, "y": 2.17}, {"x": 4.41, "y": 2.55}, {"x": 4.55, "y": 2.58}, {"x": 4.66, "y": 2.53}, {"x": 4.78, "y": 2.59}, {"x": 4.13, "y": 2.54}, {"x": 4.26, "y": 2.64}, {"x": 4.14, "y": 2.81}, {"x": 3.97, "y": 2.75}, {"x": 3.92, "y": 2.91}, {"x": 4.03, "y": 2.89}, {"x": 4.30, "y": 3.02}, {"x": 4.35, "y": 3.00}, {"x": 4.45, "y": 3.00}, {"x": 4.45, "y": 2.87}, {"x": 4.57, "y": 2.79}, {"x": 4.70, "y": 3.14}, {"x": 4.25, "y": 2.81}, {"x": 4.16, "y": 3.18}, {"x": 4.13, "y": 3.33}, {"x": 4.01, "y": 3.41}, {"x": 3.93, "y": 3.48}, {"x": 4.29, "y": 3.48}, {"x": 4.39, "y": 3.64}, {"x": 4.51, "y": 3.52}, {"x": 4.45, "y": 3.70}, {"x": 4.60, "y": 3.85}, {"x": 4.64, "y": 3.72}, {"x": 4.81, "y": 3.70}, {"x": 4.80, "y": 3.62}, {"x": 4.85, "y": 3.75}, {"x": 4.76, "y": 4.04}, {"x": 4.81, "y": 4.02}, {"x": 4.93, "y": 4.02}, {"x": 5.06, "y": 3.70}, {"x": 5.18, "y": 3.77}, {"x": 5.19, "y": 3.70}, {"x": 5.24, "y": 3.95}, {"x": 5.25, "y": 3.75}, {"x": 4.62, "y": 3.95}, {"x": 4.51, "y": 3.87}, {"x": 4.35, "y": 3.95}, {"x": 4.24, "y": 3.99}, {"x": 4.13, "y": 3.95}, {"x": 4.43, "y": 4.14}, {"x": 4.39, "y": 4.18}, {"x": 4.66, "y": 4.43}, {"x": 4.74, "y": 4.45}, {"x": 3.55, "y": 4.74}, {"x": 3.63, "y": 4.79}, {"x": 3.70, "y": 4.78}, {"x": 3.84, "y": 4.76}, {"x": 3.90, "y": 4.76}, {"x": 3.93, "y": 4.87}, {"x": 3.99, "y": 4.83}, {"x": 4.03, "y": 4.76}, {"x": 4.08, "y": 4.68}, {"x": 3.05, "y": 4.54}, {"x": 3.40, "y": 4.58}, {"x": 3.67, "y": 4.54}, {"x": 3.21, "y": 4.43}, {"x": 3.51, "y": 4.45}, {"x": 3.74, "y": 4.39}, {"x": 4.16, "y": 4.49}, {"x": 4.24, "y": 4.52}, {"x": 2.98, "y": 4.29}, {"x": 3.13, "y": 4.26}, {"x": 2.82, "y": 4.18}, {"x": 2.71, "y": 4.14}, {"x": 2.60, "y": 3.99}, {"x": 2.50, "y": 3.95}, {"x": 4.74, "y": 4.64}, {"x": 4.81, "y": 4.59}, {"x": 4.70, "y": 4.64},
      {"x": 2.35, "y": 1.35}, {"x": 2.48, "y": 1.50}, {"x": 2.60, "y": 1.62}, {"x": 2.72, "y": 1.80}, {"x": 2.85, "y": 1.98}, {"x": 3.05, "y": 2.28}, {"x": 3.25, "y": 2.60}, {"x": 3.45, "y": 2.92}, {"x": 3.62, "y": 3.20}, {"x": 3.82, "y": 3.55}, {"x": 1.35, "y": 2.10}, {"x": 1.48, "y": 2.35}, {"x": 1.60, "y": 2.60}, {"x": 1.70, "y": 2.88}, {"x": 2.00, "y": 3.15}, {"x": 2.20, "y": 3.35}, {"x": 2.35, "y": 3.50}, {"x": 2.55, "y": 3.70}, {"x": 2.70, "y": 3.88}, {"x": 3.95, "y": 3.85}, {"x": 4.05, "y": 3.95}, {"x": 3.90, "y": 4.10}, {"x": 3.50, "y": 4.16}, {"x": 1.30, "y": 1.02}, {"x": 1.55, "y": 1.04}, {"x": 1.85, "y": 1.01}, {"x": 2.10, "y": 1.05}, {"x": 0.90, "y": 1.50}, {"x": 1.02, "y": 1.60},
      {"x": 0.95, "y": 1.38}, {"x": 1.02, "y": 1.52}, {"x": 1.10, "y": 1.62}, {"x": 1.18, "y": 1.72}, {"x": 1.25, "y": 1.88}, {"x": 1.32, "y": 2.02}, {"x": 1.42, "y": 2.30}, {"x": 1.50, "y": 2.48}, {"x": 1.58, "y": 2.70}, {"x": 1.66, "y": 2.90}, {"x": 1.78, "y": 3.05}, {"x": 1.88, "y": 3.12}, {"x": 2.00, "y": 3.25}, {"x": 2.10, "y": 3.32}, {"x": 2.25, "y": 3.50}, {"x": 2.40, "y": 3.62}, {"x": 2.50, "y": 3.72}, {"x": 2.62, "y": 3.92}, {"x": 2.75, "y": 4.02}, {"x": 2.90, "y": 4.12}, {"x": 3.05, "y": 4.15}, {"x": 3.20, "y": 4.18}, {"x": 1.35, "y": 1.05}, {"x": 1.45, "y": 1.06}, {"x": 1.60, "y": 1.02}, {"x": 1.75, "y": 1.00}, {"x": 1.95, "y": 1.00}, {"x": 2.10, "y": 1.10}, {"x": 2.22, "y": 1.25}, {"x": 2.35, "y": 1.42}, {"x": 2.50, "y": 1.52}, {"x": 2.60, "y": 1.68}, {"x": 2.70, "y": 1.85}, {"x": 2.85, "y": 2.05}, {"x": 2.95, "y": 2.20}, {"x": 3.10, "y": 2.40}, {"x": 3.22, "y": 2.58}, {"x": 3.32, "y": 2.75}, {"x": 3.45, "y": 2.95}, {"x": 3.55, "y": 3.05}, {"x": 3.68, "y": 3.30}, {"x": 3.80, "y": 3.50}, {"x": 3.90, "y": 3.68}, {"x": 4.00, "y": 3.82}, {"x": 4.10, "y": 3.92}, {"x": 4.30, "y": 4.05}, {"x": 4.20, "y": 4.08}, {"x": 4.55, "y": 4.40}, {"x": 4.70, "y": 4.40}
    ],
    "lineD": [{"x": 0.847, "y": 0.846}, {"x": 5.246, "y": 5.226}],
    "noteD": [{"x": 5.445, "y": 0.815, "label": "R² = 0.75"}],
    "coreE": [
      {"part": "m", "x": 0.86, "y": 0.80, "y2": 1.04}, {"part": "m", "x": 0.90, "y": 0.70, "y2": 1.12}, {"part": "m", "x": 0.97, "y": 0.70, "y2": 1.17}, {"part": "m", "x": 1.05, "y": 0.85, "y2": 1.24}, {"part": "m", "x": 1.20, "y": 0.95, "y2": 1.34}, {"part": "m", "x": 1.41, "y": 1.18, "y2": 1.54}, {"part": "m", "x": 1.65, "y": 1.38, "y2": 1.76}, {"part": "m", "x": 1.90, "y": 1.53, "y2": 1.99}, {"part": "m", "x": 2.07, "y": 1.71, "y2": 2.16}, {"part": "m", "x": 2.23, "y": 1.88, "y2": 2.34}, {"part": "m", "x": 2.40, "y": 2.08, "y2": 2.64}, {"part": "m", "x": 2.56, "y": 2.33, "y2": 2.79}, {"part": "m", "x": 2.72, "y": 2.51, "y2": 2.96}, {"part": "m", "x": 2.88, "y": 2.67, "y2": 3.12}, {"part": "m", "x": 3.05, "y": 2.88, "y2": 3.34}, {"part": "m", "x": 3.21, "y": 3.09, "y2": 3.48}, {"part": "m", "x": 3.37, "y": 3.31, "y2": 3.66}, {"part": "m", "x": 3.54, "y": 3.48, "y2": 3.82}, {"part": "m", "x": 3.70, "y": 3.64, "y2": 3.99}, {"part": "m", "x": 3.86, "y": 3.78, "y2": 4.13}, {"part": "m", "x": 4.03, "y": 3.94, "y2": 4.28}, {"part": "m", "x": 4.19, "y": 4.09, "y2": 4.40}, {"part": "m", "x": 4.35, "y": 4.21, "y2": 4.50}, {"part": "m", "x": 4.48, "y": 4.30, "y2": 4.55}, {"part": "m", "x": 4.55, "y": 4.48, "y2": 4.63}, {"part": "m", "x": 4.62, "y": 4.55, "y2": 4.63}
    ],
    "ptsE": [
      {"x": 2.86, "y": 5.21}, {"x": 3.82, "y": 4.84}, {"x": 3.99, "y": 4.77}, {"x": 4.07, "y": 4.82}, {"x": 4.16, "y": 4.88}, {"x": 4.22, "y": 4.79}, {"x": 4.12, "y": 4.74}, {"x": 4.19, "y": 4.68}, {"x": 4.31, "y": 4.62}, {"x": 4.35, "y": 4.59}, {"x": 3.12, "y": 4.63}, {"x": 3.18, "y": 4.59}, {"x": 3.23, "y": 4.53}, {"x": 3.32, "y": 4.55}, {"x": 2.96, "y": 4.48}, {"x": 3.10, "y": 4.40}, {"x": 3.41, "y": 4.38}, {"x": 3.54, "y": 4.30}, {"x": 3.63, "y": 4.38}, {"x": 3.72, "y": 4.42}, {"x": 3.86, "y": 4.47}, {"x": 4.01, "y": 4.32}, {"x": 4.07, "y": 4.55}, {"x": 4.16, "y": 4.55}, {"x": 3.89, "y": 4.32}, {"x": 2.87, "y": 4.13}, {"x": 2.95, "y": 4.13}, {"x": 2.79, "y": 4.01}, {"x": 2.65, "y": 3.96}, {"x": 2.61, "y": 3.88}, {"x": 2.72, "y": 3.82}, {"x": 2.85, "y": 3.73}, {"x": 2.92, "y": 3.67}, {"x": 2.98, "y": 3.56}, {"x": 3.05, "y": 3.52}, {"x": 3.14, "y": 3.48}, {"x": 3.18, "y": 4.17}, {"x": 3.27, "y": 4.01}, {"x": 3.39, "y": 4.07}, {"x": 3.49, "y": 4.13}, {"x": 3.34, "y": 3.82}, {"x": 3.24, "y": 3.90}, {"x": 2.51, "y": 3.36}, {"x": 2.59, "y": 3.44}, {"x": 2.69, "y": 3.52}, {"x": 2.75, "y": 3.29}, {"x": 2.85, "y": 3.36}, {"x": 2.46, "y": 3.13}, {"x": 2.39, "y": 3.06}, {"x": 2.33, "y": 2.98}, {"x": 2.26, "y": 2.94}, {"x": 2.15, "y": 2.92}, {"x": 2.07, "y": 2.91}, {"x": 1.99, "y": 3.00}, {"x": 1.89, "y": 2.96}, {"x": 1.79, "y": 2.96}, {"x": 1.72, "y": 2.92}, {"x": 2.20, "y": 2.87}, {"x": 2.10, "y": 2.79}, {"x": 2.00, "y": 2.68}, {"x": 1.94, "y": 2.56}, {"x": 1.81, "y": 2.48}, {"x": 1.71, "y": 2.45}, {"x": 1.59, "y": 2.87}, {"x": 1.71, "y": 2.69}, {"x": 1.56, "y": 2.56}, {"x": 1.61, "y": 2.52}, {"x": 1.45, "y": 2.33}, {"x": 1.38, "y": 2.18}, {"x": 1.55, "y": 2.25}, {"x": 1.74, "y": 2.37}, {"x": 1.87, "y": 2.29}, {"x": 1.51, "y": 1.99}, {"x": 1.68, "y": 2.06}, {"x": 2.39, "y": 1.99}, {"x": 2.49, "y": 2.06}, {"x": 2.59, "y": 2.14}, {"x": 2.69, "y": 2.22}, {"x": 2.79, "y": 2.10}, {"x": 2.85, "y": 2.08}, {"x": 2.72, "y": 1.99}, {"x": 2.64, "y": 1.91}, {"x": 2.59, "y": 1.76}, {"x": 2.62, "y": 1.60}, {"x": 2.52, "y": 1.57}, {"x": 2.46, "y": 1.49}, {"x": 2.39, "y": 1.60}, {"x": 2.33, "y": 1.53}, {"x": 2.23, "y": 1.45}, {"x": 2.13, "y": 1.41}, {"x": 2.07, "y": 1.37}, {"x": 1.97, "y": 1.34}, {"x": 1.90, "y": 1.20}, {"x": 1.81, "y": 1.30}, {"x": 1.71, "y": 1.22}, {"x": 1.61, "y": 1.01}, {"x": 2.45, "y": 1.37}, {"x": 2.87, "y": 1.36}, {"x": 2.94, "y": 1.49}, {"x": 3.13, "y": 1.26}, {"x": 3.11, "y": 2.14}, {"x": 3.21, "y": 2.20}, {"x": 3.19, "y": 1.97}, {"x": 3.27, "y": 1.95}, {"x": 3.57, "y": 1.96}, {"x": 3.34, "y": 2.48}, {"x": 3.26, "y": 2.56}, {"x": 3.41, "y": 2.60}, {"x": 3.50, "y": 2.66}, {"x": 3.16, "y": 2.69}, {"x": 3.31, "y": 2.87}, {"x": 3.37, "y": 2.94}, {"x": 3.47, "y": 2.98}, {"x": 3.60, "y": 3.10}, {"x": 3.70, "y": 3.13}, {"x": 3.80, "y": 3.29}, {"x": 4.03, "y": 3.52}, {"x": 4.09, "y": 3.86}, {"x": 3.94, "y": 4.01}, {"x": 3.83, "y": 3.90}, {"x": 3.70, "y": 3.75}, {"x": 3.57, "y": 3.52},
      {"x": 1.30, "y": 1.42}, {"x": 1.50, "y": 1.60}, {"x": 1.10, "y": 0.90}, {"x": 1.35, "y": 1.10}, {"x": 1.80, "y": 1.45}, {"x": 2.00, "y": 1.62}, {"x": 2.30, "y": 2.45}, {"x": 2.50, "y": 2.82}, {"x": 2.80, "y": 3.12}, {"x": 3.00, "y": 3.35}, {"x": 3.30, "y": 3.58}, {"x": 3.10, "y": 2.85}, {"x": 3.45, "y": 3.30}, {"x": 4.10, "y": 4.08}, {"x": 4.42, "y": 4.30},
      {"x": 1.00, "y": 1.22}, {"x": 1.15, "y": 1.35}, {"x": 1.30, "y": 1.48}, {"x": 1.45, "y": 1.60}, {"x": 1.60, "y": 1.75}, {"x": 1.75, "y": 1.90}, {"x": 1.90, "y": 2.05}, {"x": 2.05, "y": 2.22}, {"x": 2.20, "y": 2.42}, {"x": 2.35, "y": 2.70}, {"x": 2.45, "y": 2.85}, {"x": 2.60, "y": 2.88}, {"x": 2.75, "y": 3.02}, {"x": 2.90, "y": 3.18}, {"x": 3.05, "y": 3.40}, {"x": 3.20, "y": 3.55}, {"x": 3.35, "y": 3.70}, {"x": 3.50, "y": 3.88}, {"x": 3.65, "y": 4.03}, {"x": 3.80, "y": 4.15}, {"x": 3.95, "y": 4.30}, {"x": 4.10, "y": 4.40}, {"x": 4.25, "y": 4.50}, {"x": 1.10, "y": 0.95}, {"x": 1.25, "y": 1.00}, {"x": 1.40, "y": 1.12}, {"x": 1.55, "y": 1.30}, {"x": 1.70, "y": 1.38}, {"x": 1.85, "y": 1.50}, {"x": 2.00, "y": 1.68}, {"x": 2.15, "y": 1.85}, {"x": 2.30, "y": 2.02}, {"x": 2.45, "y": 2.25}, {"x": 2.60, "y": 2.42}, {"x": 2.75, "y": 2.58}, {"x": 2.90, "y": 2.72}, {"x": 3.05, "y": 2.88}, {"x": 3.20, "y": 3.05}, {"x": 3.35, "y": 3.28}, {"x": 3.50, "y": 3.45}, {"x": 3.65, "y": 3.62}, {"x": 3.80, "y": 3.78}, {"x": 3.95, "y": 3.92}, {"x": 4.10, "y": 4.08}, {"x": 4.25, "y": 4.20}, {"x": 4.40, "y": 4.30}
    ],
    "lineE": [{"x": 0.866, "y": 0.839}, {"x": 4.623, "y": 4.684}],
    "noteE": [{"x": 4.76, "y": 0.832, "label": "R² = 0.97"}],
    "coreF": [
      {"part": "m", "x": 0.67, "y": 0.72, "y2": 0.80}, {"part": "m", "x": 0.75, "y": 0.72, "y2": 0.95}, {"part": "m", "x": 0.83, "y": 0.72, "y2": 1.05}, {"part": "m", "x": 0.90, "y": 0.72, "y2": 1.12}, {"part": "m", "x": 1.00, "y": 0.74, "y2": 1.18}, {"part": "m", "x": 1.10, "y": 0.82, "y2": 1.27}, {"part": "m", "x": 1.21, "y": 0.91, "y2": 1.38}, {"part": "m", "x": 1.35, "y": 1.05, "y2": 1.52}, {"part": "m", "x": 1.48, "y": 1.19, "y2": 1.66}, {"part": "m", "x": 1.61, "y": 1.33, "y2": 1.78}, {"part": "m", "x": 1.75, "y": 1.46, "y2": 1.90}, {"part": "m", "x": 1.87, "y": 1.55, "y2": 1.97}, {"part": "m", "x": 2.00, "y": 1.65, "y2": 2.13}, {"part": "m", "x": 2.14, "y": 1.72, "y2": 2.33}, {"part": "m", "x": 2.30, "y": 1.78, "y2": 2.45}, {"part": "m", "x": 2.41, "y": 1.80, "y2": 2.55}, {"part": "m", "x": 2.45, "y": 1.75, "y2": 2.62}, {"part": "m", "x": 2.50, "y": 2.20, "y2": 2.75}, {"part": "m", "x": 2.53, "y": 2.33, "y2": 2.80}, {"part": "m", "x": 2.64, "y": 2.55, "y2": 2.90}, {"part": "m", "x": 2.84, "y": 2.72, "y2": 3.05}, {"part": "m", "x": 3.03, "y": 2.95, "y2": 3.31}, {"part": "m", "x": 3.22, "y": 3.15, "y2": 3.48}, {"part": "m", "x": 3.42, "y": 3.35, "y2": 3.66}, {"part": "m", "x": 3.61, "y": 3.54, "y2": 3.84}, {"part": "m", "x": 3.80, "y": 3.72, "y2": 4.01}, {"part": "m", "x": 4.00, "y": 3.89, "y2": 4.18}, {"part": "m", "x": 4.19, "y": 4.05, "y2": 4.36}, {"part": "m", "x": 4.38, "y": 4.25, "y2": 4.52}, {"part": "m", "x": 4.42, "y": 4.30, "y2": 4.60}, {"part": "m", "x": 4.55, "y": 4.45, "y2": 4.62}, {"part": "m", "x": 4.69, "y": 4.56, "y2": 4.62},
      {"part": "s", "x": 2.43, "y": 1.55, "y2": 3.40}, {"part": "s", "x": 2.46, "y": 1.27, "y2": 3.85}, {"part": "s", "x": 2.495, "y": 1.30, "y2": 3.75}
    ],
    "ptsF": [
      {"x": 5.13, "y": 5.22}, {"x": 2.86, "y": 4.78}, {"x": 3.01, "y": 4.76}, {"x": 3.49, "y": 4.52}, {"x": 4.34, "y": 4.59}, {"x": 4.54, "y": 4.52}, {"x": 4.61, "y": 4.35}, {"x": 4.15, "y": 3.87}, {"x": 4.27, "y": 3.82}, {"x": 4.81, "y": 4.89}, {"x": 4.69, "y": 4.82}, {"x": 4.75, "y": 4.85}, {"x": 4.79, "y": 4.87}, {"x": 4.63, "y": 4.76}, {"x": 4.59, "y": 4.71},
      {"x": 2.46, "y": 4.64}, {"x": 2.46, "y": 4.60}, {"x": 2.46, "y": 4.50}, {"x": 2.46, "y": 4.40}, {"x": 2.46, "y": 4.29}, {"x": 2.47, "y": 4.27}, {"x": 2.46, "y": 4.17}, {"x": 2.48, "y": 4.11}, {"x": 2.46, "y": 4.03}, {"x": 2.48, "y": 3.97}, {"x": 2.47, "y": 3.89}, {"x": 2.53, "y": 4.15}, {"x": 2.55, "y": 4.07}, {"x": 2.57, "y": 3.97}, {"x": 2.51, "y": 3.85},
      {"x": 2.76, "y": 3.93}, {"x": 2.87, "y": 3.91}, {"x": 3.05, "y": 4.03}, {"x": 3.22, "y": 3.94}, {"x": 3.34, "y": 3.91}, {"x": 3.45, "y": 4.01}, {"x": 3.57, "y": 3.97}, {"x": 3.69, "y": 4.09}, {"x": 3.80, "y": 4.29}, {"x": 3.88, "y": 4.36}, {"x": 4.00, "y": 4.40}, {"x": 3.59, "y": 4.36}, {"x": 2.58, "y": 3.82}, {"x": 2.64, "y": 3.74}, {"x": 2.72, "y": 3.66}, {"x": 2.84, "y": 3.78}, {"x": 2.95, "y": 3.66}, {"x": 3.07, "y": 3.72}, {"x": 3.18, "y": 3.82}, {"x": 3.30, "y": 3.74}, {"x": 3.42, "y": 3.82}, {"x": 3.53, "y": 3.78}, {"x": 3.65, "y": 3.82}, {"x": 2.57, "y": 3.58}, {"x": 2.68, "y": 3.50}, {"x": 2.80, "y": 3.42}, {"x": 2.91, "y": 3.54}, {"x": 3.03, "y": 3.46}, {"x": 3.15, "y": 3.54}, {"x": 3.26, "y": 3.50}, {"x": 3.38, "y": 3.58}, {"x": 2.57, "y": 3.35}, {"x": 2.64, "y": 3.27}, {"x": 2.76, "y": 3.31}, {"x": 2.87, "y": 3.19}, {"x": 2.99, "y": 3.35}, {"x": 2.72, "y": 3.11}, {"x": 2.60, "y": 3.03}, {"x": 2.55, "y": 3.15}, {"x": 2.68, "y": 2.95}, {"x": 2.84, "y": 3.03}, {"x": 2.57, "y": 2.84}, {"x": 3.07, "y": 3.11}, {"x": 2.95, "y": 2.95},
      {"x": 2.95, "y": 2.09}, {"x": 2.57, "y": 2.09}, {"x": 3.22, "y": 2.80}, {"x": 3.30, "y": 2.87}, {"x": 3.03, "y": 2.72}, {"x": 3.61, "y": 3.11}, {"x": 3.73, "y": 3.31}, {"x": 4.00, "y": 3.58}, {"x": 4.11, "y": 3.66},
      {"x": 2.41, "y": 1.54}, {"x": 2.37, "y": 1.38}, {"x": 2.33, "y": 1.27}, {"x": 2.33, "y": 1.11}, {"x": 2.22, "y": 1.31}, {"x": 2.14, "y": 1.23}, {"x": 2.06, "y": 1.38}, {"x": 1.99, "y": 1.46}, {"x": 2.02, "y": 1.15}, {"x": 1.91, "y": 1.50}, {"x": 1.83, "y": 1.35}, {"x": 1.72, "y": 1.01}, {"x": 1.75, "y": 1.23}, {"x": 1.64, "y": 1.31}, {"x": 1.52, "y": 1.23}, {"x": 1.40, "y": 0.95}, {"x": 1.29, "y": 1.03}, {"x": 1.21, "y": 0.84}, {"x": 1.17, "y": 0.74}, {"x": 1.12, "y": 0.74}, {"x": 1.06, "y": 0.76},
      {"x": 1.14, "y": 1.25}, {"x": 1.29, "y": 1.42}, {"x": 1.44, "y": 1.62}, {"x": 1.60, "y": 1.78}, {"x": 1.75, "y": 1.85}, {"x": 1.91, "y": 2.01}, {"x": 2.06, "y": 2.17}, {"x": 2.22, "y": 2.60}, {"x": 2.30, "y": 2.52}, {"x": 2.37, "y": 2.76}, {"x": 2.43, "y": 2.84}, {"x": 2.14, "y": 2.40}, {"x": 1.87, "y": 2.09}, {"x": 0.71, "y": 1.03}, {"x": 0.75, "y": 0.95}, {"x": 0.88, "y": 1.15}, {"x": 1.06, "y": 1.15},
      {"x": 4.31, "y": 4.17}, {"x": 4.46, "y": 4.36}, {"x": 4.61, "y": 4.44}, {"x": 4.23, "y": 4.01}, {"x": 2.25, "y": 1.55}, {"x": 2.30, "y": 1.65}, {"x": 2.38, "y": 1.70}, {"x": 2.18, "y": 1.60},
      {"x": 0.80, "y": 1.08}, {"x": 0.95, "y": 1.22}, {"x": 1.10, "y": 1.32}, {"x": 1.25, "y": 1.45}, {"x": 1.40, "y": 1.58}, {"x": 1.55, "y": 1.72}, {"x": 1.70, "y": 1.85}, {"x": 1.85, "y": 2.02}, {"x": 2.00, "y": 2.20}, {"x": 2.10, "y": 2.35}, {"x": 2.25, "y": 2.50}, {"x": 2.35, "y": 2.62}, {"x": 2.60, "y": 2.50}, {"x": 2.75, "y": 2.65}, {"x": 2.90, "y": 2.78}, {"x": 3.05, "y": 2.92}, {"x": 3.20, "y": 3.10}, {"x": 3.35, "y": 3.28}, {"x": 3.50, "y": 3.45}, {"x": 3.65, "y": 3.60}, {"x": 3.80, "y": 3.68}, {"x": 3.95, "y": 3.85}, {"x": 4.10, "y": 4.00}, {"x": 4.25, "y": 4.15}, {"x": 4.40, "y": 4.28}, {"x": 2.70, "y": 3.00}, {"x": 2.90, "y": 3.12}, {"x": 3.10, "y": 3.38}, {"x": 3.30, "y": 3.55}, {"x": 3.50, "y": 3.72}, {"x": 3.70, "y": 3.92}, {"x": 3.90, "y": 4.10}, {"x": 4.10, "y": 4.28}, {"x": 4.30, "y": 4.45}, {"x": 2.62, "y": 3.45}, {"x": 2.70, "y": 3.60}, {"x": 2.78, "y": 3.25}, {"x": 2.82, "y": 3.55}, {"x": 2.92, "y": 3.28}, {"x": 2.98, "y": 3.60}, {"x": 3.12, "y": 3.62}, {"x": 3.20, "y": 3.68}, {"x": 2.60, "y": 3.68}, {"x": 2.66, "y": 3.88}, {"x": 2.74, "y": 3.80}, {"x": 2.80, "y": 3.95}, {"x": 2.52, "y": 3.65}, {"x": 2.52, "y": 3.45}, {"x": 2.52, "y": 3.25}, {"x": 2.20, "y": 1.48}, {"x": 2.28, "y": 1.42}, {"x": 2.35, "y": 1.50}, {"x": 2.40, "y": 1.35}, {"x": 2.42, "y": 1.25}, {"x": 2.10, "y": 1.55}, {"x": 2.00, "y": 1.55}, {"x": 1.95, "y": 1.38}, {"x": 1.85, "y": 1.45}, {"x": 1.70, "y": 1.40}, {"x": 1.55, "y": 1.30}
    ],
    "lineF": [{"x": 0.683, "y": 0.627}, {"x": 5.136, "y": 5.227}],
    "noteF": [{"x": 5.349, "y": 0.745, "label": "R² = 0.98"}]
  },
  "concat": [
    {
      "width": 567, "height": 561,
      "title": {"text": "A", "offset": 6.5, "dx": -74, "fontSize": 24},
      "encoding": {
        "x": {"field": "x", "type": "quantitative", "title": "Rosetta enegy (REU)", "scale": {"domain": [-1343, 320], "nice": false, "zero": false}, "axis": {"values": [-1000, -500, 0], "labelExpr": "'' + datum.value"}},
        "y": {"field": "y", "type": "quantitative", "title": "HA RMSD from crystal structure (Å)", "scale": {"domain": [0.486, 5.42], "nice": false, "zero": false}, "axis": {"values": [1, 2, 3, 4, 5]}}
      },
      "layer": [
        {"data": {"name": "coreA"}, "mark": {"type": "area", "orient": "horizontal", "color": "#0b0b0b", "stroke": "#0b0b0b", "strokeWidth": 3, "strokeJoin": "round"}, "encoding": {"x2": {"field": "x2"}, "detail": {"field": "part"}}},
        {"data": {"name": "ptsA"}, "mark": {"type": "circle", "size": 30, "opacity": 1, "color": "#0b0b0b"}},
        {"data": {"name": "bandA"}, "mark": {"type": "area", "color": "#9a9a9a", "opacity": 0.4}, "encoding": {"y2": {"field": "y2"}}},
        {"data": {"name": "lineA"}, "mark": {"type": "line", "color": "#3e64c9", "strokeWidth": 1.8}},
        {"data": {"name": "noteA"}, "mark": {"type": "text", "align": "right", "baseline": "middle", "fontSize": 31, "color": "#1a1a1a"}, "encoding": {"text": {"field": "label"}}}
      ]
    },
    {
      "width": 567, "height": 561,
      "title": {"text": "B", "offset": 6.5, "dx": -72, "fontSize": 24},
      "encoding": {
        "x": {"field": "x", "type": "quantitative", "title": "Rosetta energy, peptide alone (REU)", "scale": {"domain": [-59, 766], "nice": false, "zero": false}, "axis": {"values": [0, 200, 400, 600]}},
        "y": {"field": "y", "type": "quantitative", "title": "HA RMSD from crystal structure (Å)", "scale": {"domain": [0.474, 5.42], "nice": false, "zero": false}, "axis": {"values": [1, 2, 3, 4, 5]}}
      },
      "layer": [
        {"data": {"name": "coreB"}, "mark": {"type": "area", "orient": "horizontal", "color": "#0b0b0b", "stroke": "#0b0b0b", "strokeWidth": 3, "strokeJoin": "round"}, "encoding": {"x2": {"field": "x2"}, "detail": {"field": "part"}}},
        {"data": {"name": "ptsB"}, "mark": {"type": "circle", "size": 30, "opacity": 1, "color": "#0b0b0b"}},
        {"data": {"name": "bandB"}, "mark": {"type": "area", "color": "#9a9a9a", "opacity": 0.4}, "encoding": {"y2": {"field": "y2"}}},
        {"data": {"name": "lineB"}, "mark": {"type": "line", "color": "#3e64c9", "strokeWidth": 1.8}},
        {"data": {"name": "noteB"}, "mark": {"type": "text", "align": "right", "baseline": "middle", "fontSize": 31, "color": "#1a1a1a"}, "encoding": {"text": {"field": "label"}}}
      ]
    },
    {
      "width": 567, "height": 561,
      "title": {"text": "C", "offset": 17, "dx": -73, "fontSize": 24},
      "encoding": {
        "x": {"field": "x", "type": "quantitative", "title": "PLS predicted HA RMSD (Å)", "scale": {"domain": [0.295, 5.334], "nice": false, "zero": false}, "axis": {"values": [1, 2, 3, 4, 5]}},
        "y": {"field": "y", "type": "quantitative", "title": "HA RMSD from crystal structure (Å)", "scale": {"domain": [0.26, 5.44], "nice": false, "zero": false}, "axis": {"values": [1, 2, 3, 4, 5]}}
      },
      "layer": [
        {"data": {"name": "coreC"}, "mark": {"type": "area", "color": "#0b0b0b", "stroke": "#0b0b0b", "strokeWidth": 3, "strokeJoin": "round"}, "encoding": {"y2": {"field": "y2"}, "detail": {"field": "part"}}},
        {"data": {"name": "ptsC"}, "mark": {"type": "circle", "size": 30, "opacity": 1, "color": "#0b0b0b"}},
        {"data": {"name": "lineC"}, "mark": {"type": "line", "color": "#3e64c9", "strokeWidth": 1.8}},
        {"data": {"name": "noteC"}, "mark": {"type": "text", "align": "right", "baseline": "middle", "fontSize": 31, "color": "#1a1a1a"}, "encoding": {"text": {"field": "label"}}}
      ]
    },
    {
      "width": 567, "height": 561,
      "title": {"text": "D", "offset": 15.5, "dx": -70, "fontSize": 24},
      "encoding": {
        "x": {"field": "x", "type": "quantitative", "title": "OLS predicted HA RMSD (Å)", "scale": {"domain": [0.625, 5.466], "nice": false, "zero": false}, "axis": {"values": [1, 2, 3, 4, 5]}},
        "y": {"field": "y", "type": "quantitative", "title": "HA RMSD from crystal structure (Å)", "scale": {"domain": [0.48, 5.47], "nice": false, "zero": false}, "axis": {"values": [1, 2, 3, 4, 5]}}
      },
      "layer": [
        {"data": {"name": "coreD"}, "mark": {"type": "area", "color": "#0b0b0b", "stroke": "#0b0b0b", "strokeWidth": 3, "strokeJoin": "round"}, "encoding": {"y2": {"field": "y2"}, "detail": {"field": "part"}}},
        {"data": {"name": "ptsD"}, "mark": {"type": "circle", "size": 30, "opacity": 1, "color": "#0b0b0b"}},
        {"data": {"name": "lineD"}, "mark": {"type": "line", "color": "#3e64c9", "strokeWidth": 1.8}},
        {"data": {"name": "noteD"}, "mark": {"type": "text", "align": "right", "baseline": "middle", "fontSize": 31, "color": "#1a1a1a"}, "encoding": {"text": {"field": "label"}}}
      ]
    },
    {
      "width": 567, "height": 561,
      "title": {"text": "E", "offset": 14.5, "dx": -70, "fontSize": 24},
      "encoding": {
        "x": {"field": "x", "type": "quantitative", "title": "linSVR predicted HA RMSD (Å)", "scale": {"domain": [0.687, 4.81], "nice": false, "zero": false}, "axis": {"values": [1, 2, 3, 4]}},
        "y": {"field": "y", "type": "quantitative", "title": "HA RMSD from crystal structure (Å)", "scale": {"domain": [0.476, 5.43], "nice": false, "zero": false}, "axis": {"values": [1, 2, 3, 4, 5]}}
      },
      "layer": [
        {"data": {"name": "coreE"}, "mark": {"type": "area", "color": "#0b0b0b", "stroke": "#0b0b0b", "strokeWidth": 3, "strokeJoin": "round"}, "encoding": {"y2": {"field": "y2"}, "detail": {"field": "part"}}},
        {"data": {"name": "ptsE"}, "mark": {"type": "circle", "size": 30, "opacity": 1, "color": "#0b0b0b"}},
        {"data": {"name": "lineE"}, "mark": {"type": "line", "color": "#3e64c9", "strokeWidth": 1.8}},
        {"data": {"name": "noteE"}, "mark": {"type": "text", "align": "right", "baseline": "middle", "fontSize": 31, "color": "#1a1a1a"}, "encoding": {"text": {"field": "label"}}}
      ]
    },
    {
      "width": 567, "height": 561,
      "title": {"text": "F", "offset": 14.5, "dx": -70, "fontSize": 24},
      "encoding": {
        "x": {"field": "x", "type": "quantitative", "title": "radSVR predicted HA RMSD (Å)", "scale": {"domain": [0.459, 5.347], "nice": false, "zero": false}, "axis": {"values": [1, 2, 3, 4, 5]}},
        "y": {"field": "y", "type": "quantitative", "title": "HA RMSD from crystal structure (Å)", "scale": {"domain": [0.392, 5.46], "nice": false, "zero": false}, "axis": {"values": [1, 2, 3, 4, 5]}}
      },
      "layer": [
        {"data": {"name": "coreF"}, "mark": {"type": "area", "color": "#0b0b0b", "stroke": "#0b0b0b", "strokeWidth": 3, "strokeJoin": "round"}, "encoding": {"y2": {"field": "y2"}, "detail": {"field": "part"}}},
        {"data": {"name": "ptsF"}, "mark": {"type": "circle", "size": 30, "opacity": 1, "color": "#0b0b0b"}},
        {"data": {"name": "lineF"}, "mark": {"type": "line", "color": "#3e64c9", "strokeWidth": 1.8}},
        {"data": {"name": "noteF"}, "mark": {"type": "text", "align": "right", "baseline": "middle", "fontSize": 31, "color": "#1a1a1a"}, "encoding": {"text": {"field": "label"}}}
      ]
    }
  ],
  "columns": 2,
  "spacing": {"row": 124.5, "column": 167},
  "bounds": "flush"
}
